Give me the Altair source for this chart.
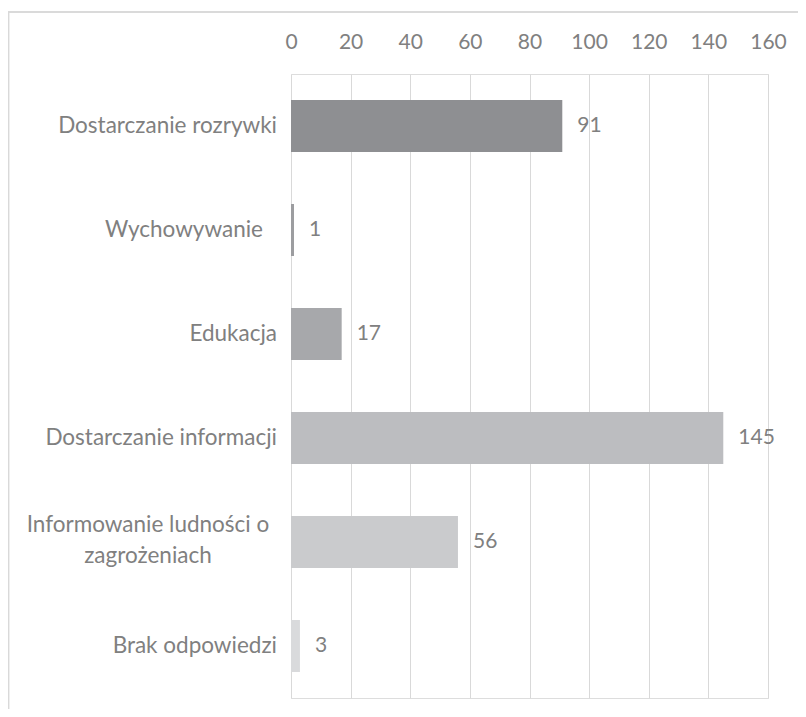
import altair as alt
import pandas as pd

categories = [
    "Dostarczanie rozrywki",
    "Wychowywanie ",
    "Edukacja",
    "Dostarczanie informacji",
    "Informowanie ludności o\nzagrożeniach",
    "Brak odpowiedzi",
]
values = [91, 1, 17, 145, 56, 3]
bar_colors = ["#8e8f92", "#9c9da0", "#a7a8ab", "#bcbdc0", "#cacbcd", "#d9dadc"]
x_ticks = [0, 20, 40, 60, 80, 100, 120, 140, 160]

df = pd.DataFrame({"cat": categories, "val": values, "color": bar_colors})
df["multi"] = df["cat"].str.contains("\n")
df["trail"] = df["cat"].str.endswith(" ")

FONT = "Lato"
FS_NUM = 21
FS_CAT = 22.5
TXT = "#808080"

y_enc = alt.Y("cat:N", sort=categories, axis=None,
              scale=alt.Scale(paddingInner=0.5, paddingOuter=0.25))

bars = alt.Chart(df).mark_bar().encode(
    x=alt.X("val:Q", scale=alt.Scale(domain=[0, 160], nice=False),
            axis=alt.Axis(orient="top", values=x_ticks, domain=False, ticks=False,
                          grid=True, gridColor="#d9d9d9", gridWidth=1,
                          labelFlush=False, labelOverlap=False,
                          labelFont=FONT, labelFontSize=FS_NUM, labelColor=TXT,
                          labelPadding=22, title=None)),
    y=y_enc,
    color=alt.Color("color:N", scale=None),
)

vals = alt.Chart(df).mark_text(align="left", baseline="middle", dx=15,
                               font=FONT, fontSize=FS_NUM, color=TXT).encode(
    x="val:Q", y=y_enc, text="val:Q")

lab_single = alt.Chart(df).transform_filter("!datum.multi && !datum.trail").mark_text(
    align="right", baseline="middle", font=FONT, fontSize=FS_CAT, color=TXT).encode(
    x=alt.value(-14), y=y_enc, text="cat:N")

lab_trail = alt.Chart(df).transform_filter("datum.trail").mark_text(
    align="right", baseline="middle", font=FONT, fontSize=FS_CAT, color=TXT).encode(
    x=alt.value(-28), y=y_enc, text="cat:N")

lab_multi = alt.Chart(df).transform_filter("datum.multi").mark_text(
    align="center", baseline="middle", font=FONT, fontSize=FS_CAT, color=TXT,
    lineBreak="\n", lineHeight=31, dy=-17).encode(
    x=alt.value(-143), y=y_enc, text="cat:N")

frame_v = alt.Chart(df).mark_rule(color="#d9d9d9", strokeWidth=1.2).encode(
    x=alt.value(-282.5), y=alt.value(-62), y2=alt.value(700))
frame_h = alt.Chart(df).mark_rule(color="#d9d9d9", strokeWidth=1.2).encode(
    y=alt.value(-62), x=alt.value(-283), x2=alt.value(520))

chart = alt.layer(frame_v, frame_h, bars, vals, lab_single, lab_trail, lab_multi).properties(
    width=477, height=624,
    padding={"left": 283, "top": 66, "right": 30, "bottom": 11},
    autosize=alt.AutoSizeParams(type="none"),
).configure_view(stroke=None).configure(background="white")

chart.save("out.html", embed_options={"renderer": "svg", "actions": False})
